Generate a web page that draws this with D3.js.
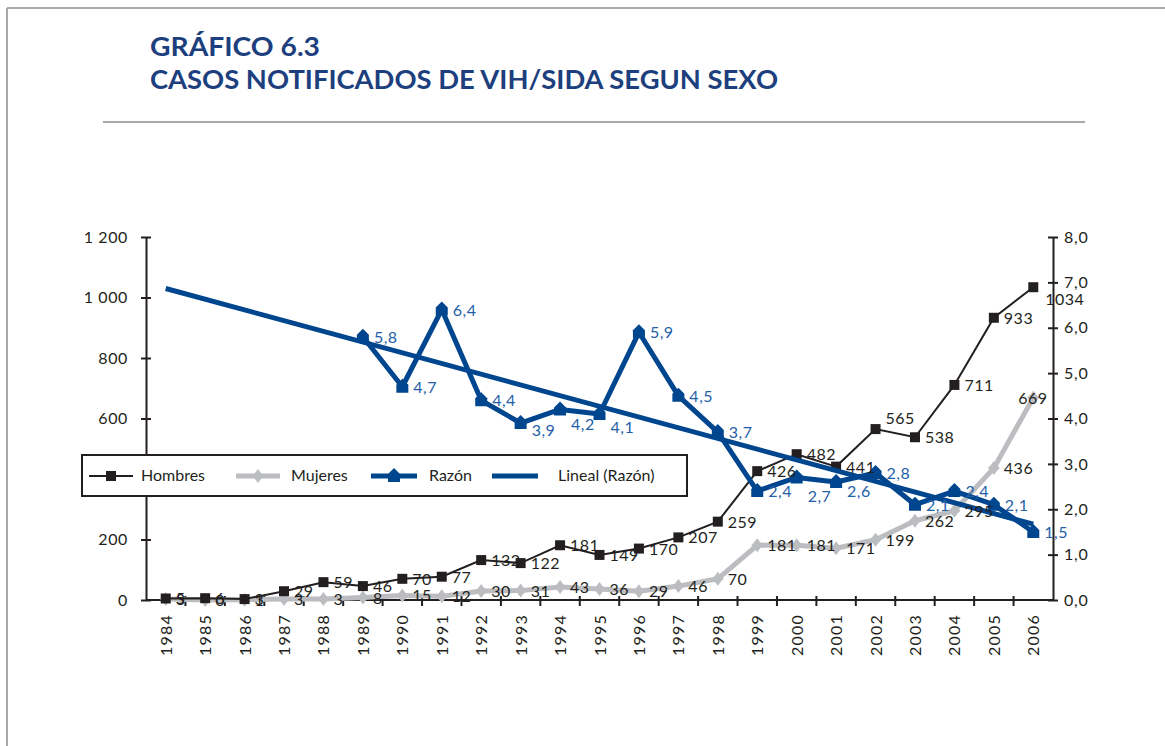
<!DOCTYPE html>
<html>
<head>
<meta charset="utf-8">
<script src="https://cdn.jsdelivr.net/npm/d3@7"></script>
<style>
  body { margin: 0; background: #fff; }
  svg { display: block; font-family: Lato, "Open Sans", sans-serif; }
</style>
</head>
<body>
<svg id="chart" width="1165" height="746"></svg>
<script>
// ---- data -------------------------------------------------------------
const years = ["1984","1985","1986","1987","1988","1989","1990","1991","1992","1993","1994","1995",
               "1996","1997","1998","1999","2000","2001","2002","2003","2004","2005","2006"];
const hombres = [5, 6, 3, 29, 59, 46, 70, 77, 132, 122, 181, 149, 170, 207, 259, 426, 482, 441, 565, 538, 711, 933, 1034];
const mujeres = [3, 0, 1, 3, 3, 8, 15, 12, 30, 31, 43, 36, 29, 46, 70, 181, 181, 171, 199, 262, 295, 436, 669];
const razon   = [null, null, null, null, null, 5.8, 4.7, 6.4, 4.4, 3.9, 4.2, 4.1, 5.9, 4.5, 3.7, 2.4, 2.7, 2.6, 2.8, 2.1, 2.4, 2.1, 1.5];
const leftTicks  = [0, 200, 400, 600, 800, 1000, 1200];
const rightTicks = [0, 1, 2, 3, 4, 5, 6, 7, 8];
const seriesNames = ["Hombres", "Mujeres", "Razón", "Lineal (Razón)"];
const titleLines = ["GRÁFICO 6.3", "CASOS NOTIFICADOS DE VIH/SIDA SEGUN SEXO"];

// ---- styling ------------------------------------------------------------
const C = {
  title: "#1d3f7e",
  frame: "#a9a9a9",
  ink: "#231f20",
  gray: "#bcbdc0",
  blue: "#00468f",
  blueText: "#2460a8"
};

const svg = d3.select("#chart");
const locale = d3.formatLocale({ decimal: ",", thousands: " ", grouping: [3], currency: ["", ""] });
const fmtLeft = locale.format(",");
const fmtRight = locale.format(".1f");
const fmtRatio = locale.format(".1f");

// page frame and heading
svg.append("line").attr("x1", 7).attr("x2", 1165).attr("y1", 8).attr("y2", 8)
  .attr("stroke", C.frame).attr("stroke-width", 2);
svg.append("line").attr("x1", 7).attr("x2", 7).attr("y1", 8).attr("y2", 746)
  .attr("stroke", C.frame).attr("stroke-width", 2);
svg.append("line").attr("x1", 103).attr("x2", 1085).attr("y1", 122).attr("y2", 122)
  .attr("stroke", C.frame).attr("stroke-width", 2);

const titleW = [170, 628];
titleLines.forEach((t, i) => {
  svg.append("text")
    .attr("x", 150).attr("y", 56 + i * 33)
    .attr("fill", C.title).attr("font-weight", 700).attr("font-size", 27)
    .attr("textLength", titleW[i]).attr("lengthAdjust", "spacingAndGlyphs")
    .text(t);
});

// ---- scales -------------------------------------------------------------
const x = d3.scaleBand().domain(years).range([146, 1053]);
const cx = d => x(d) + x.bandwidth() / 2;
const yL = d3.scaleLinear().domain([0, 1200]).range([600, 237]);
const yR = d3.scaleLinear().domain([0, 8]).range([600, 237]);

// ---- axes ---------------------------------------------------------------
function crossTicks(g) {
  g.attr("font-family", null);
  g.select(".domain").attr("stroke", C.ink).attr("stroke-width", 2);
  g.selectAll(".tick line").attr("stroke", C.ink).attr("stroke-width", 2)
    .attr("x1", -5).attr("x2", 5);
  g.selectAll(".tick text").attr("fill", C.ink).attr("font-size", 16);
}

svg.append("g").attr("transform", "translate(146,0)")
  .call(d3.axisLeft(yL).tickValues(leftTicks).tickFormat(fmtLeft).tickSizeOuter(0).tickSizeInner(5).tickPadding(13))
  .call(crossTicks)
  .call(g => g.selectAll(".tick text").attr("letter-spacing", 0.6));

svg.append("g").attr("transform", "translate(1053,0)")
  .call(d3.axisRight(yR).tickValues(rightTicks).tickFormat(fmtRight).tickSizeOuter(0).tickSizeInner(5).tickPadding(6))
  .call(crossTicks)
  .call(g => g.selectAll(".tick text").attr("letter-spacing", 0.8));

// x axis: ticks on category boundaries, labels rotated at category centres
const xAxis = svg.append("g");
xAxis.append("line").attr("x1", 146).attr("x2", 1053).attr("y1", 600).attr("y2", 600)
  .attr("stroke", C.ink).attr("stroke-width", 2);
xAxis.selectAll("line.tick").data(years.slice(1)).join("line")
  .attr("class", "tick")
  .attr("x1", d => x(d)).attr("x2", d => x(d))
  .attr("y1", 596).attr("y2", 606)
  .attr("stroke", C.ink).attr("stroke-width", 2);
xAxis.selectAll("text").data(years).join("text")
  .attr("transform", d => `translate(${cx(d) + 6},614) rotate(-90)`)
  .attr("text-anchor", "end")
  .attr("font-size", 16).attr("letter-spacing", 1.2).attr("fill", C.ink)
  .text(d => d);

// ---- marker shapes --------------------------------------------------------
const squarePath = "M-5,-5H5V5H-5Z";
const diamondPath = "M0,-7L3,-3L6,0L3,3L0,7L-3,3L-6,0L-3,-3Z";
const housePath = "M0,-8L6,-2V6H-6V-2Z";

// ---- series -------------------------------------------------------------
const idx = years.map((d, i) => i);

// Mujeres
svg.append("path")
  .attr("d", d3.line().x(i => cx(years[i])).y(i => yL(mujeres[i]))(idx))
  .attr("fill", "none").attr("stroke", C.gray).attr("stroke-width", 5).attr("stroke-linejoin", "round");
svg.append("g").selectAll("path").data(idx).join("path")
  .attr("transform", i => `translate(${cx(years[i])},${yL(mujeres[i])})`)
  .attr("d", diamondPath).attr("fill", C.gray);

// Hombres
svg.append("path")
  .attr("d", d3.line().x(i => cx(years[i])).y(i => yL(hombres[i]))(idx))
  .attr("fill", "none").attr("stroke", C.ink).attr("stroke-width", 2);
svg.append("g").selectAll("path").data(idx).join("path")
  .attr("transform", i => `translate(${cx(years[i])},${yL(hombres[i])})`)
  .attr("d", squarePath).attr("fill", C.ink);

// Razón (secondary axis)
const rIdx = idx.filter(i => razon[i] != null);
svg.append("path")
  .attr("d", d3.line().x(i => cx(years[i])).y(i => yR(razon[i]))(rIdx))
  .attr("fill", "none").attr("stroke", C.blue).attr("stroke-width", 5).attr("stroke-linejoin", "round");
svg.append("g").selectAll("path").data(rIdx).join("path")
  .attr("transform", i => `translate(${cx(years[i])},${yR(razon[i])})`)
  .attr("d", housePath).attr("fill", C.blue);

// Lineal (Razón): least-squares trend over the ratio, drawn across all years
const mx = d3.mean(rIdx), my = d3.mean(rIdx, i => razon[i]);
const slope = d3.sum(rIdx, i => (i - mx) * (razon[i] - my)) / d3.sum(rIdx, i => (i - mx) ** 2);
const trendAt = i => my + slope * (i - mx);
const i0 = 0, i1 = years.length - 1;
svg.append("line")
  .attr("x1", cx(years[i0])).attr("y1", yR(trendAt(i0)))
  .attr("x2", cx(years[i1])).attr("y2", yR(trendAt(i1)))
  .attr("stroke", C.blue).attr("stroke-width", 5);

// ---- data labels ----------------------------------------------------------
// labels sit to the right of each point; a few are nudged clear of the lines
const nudge = {
  h: { "2002": [0, -11], "2006": [2, 12] },
  m: { "2006": [-25, 0] },
  r: { "1993": [0, 7], "1994": [0, 15], "1995": [0, 13], "2000": [0, 19], "2001": [0, 9] }
};
const nd = (key, i, k) => (nudge[key][years[i]] || [0, 0])[k];

const labels = svg.append("g").attr("font-size", 16).attr("letter-spacing", 0.5);
labels.selectAll("text.h").data(idx).join("text").attr("class", "h")
  .attr("x", i => cx(years[i]) + 10 + nd("h", i, 0)).attr("y", i => yL(hombres[i]) + 6 + nd("h", i, 1))
  .attr("fill", C.ink).text(i => hombres[i]);
labels.selectAll("text.m").data(idx).join("text").attr("class", "m")
  .attr("x", i => cx(years[i]) + 10 + nd("m", i, 0)).attr("y", i => yL(mujeres[i]) + 6 + nd("m", i, 1))
  .attr("fill", C.ink).text(i => mujeres[i]);
labels.selectAll("text.r").data(rIdx).join("text").attr("class", "r")
  .attr("x", i => cx(years[i]) + 11 + nd("r", i, 0)).attr("y", i => yR(razon[i]) + 6 + nd("r", i, 1))
  .attr("fill", C.blueText).text(i => fmtRatio(razon[i]));

// ---- legend -------------------------------------------------------------
const lg = svg.append("g");
lg.append("rect").attr("x", 82).attr("y", 455).attr("width", 605).attr("height", 41)
  .attr("fill", "#fff").attr("stroke", C.ink).attr("stroke-width", 2);
const ly = 476;
const legendItems = [
  { x0: 89, x1: 133, color: C.ink, w: 2, marker: squarePath, tx: 141 },
  { x0: 236, x1: 280, color: C.gray, w: 5, marker: diamondPath, tx: 291 },
  { x0: 371, x1: 417, color: C.blue, w: 5, marker: housePath, tx: 429 },
  { x0: 492, x1: 538, color: C.blue, w: 5, marker: null, tx: 558 }
];
legendItems.forEach((it, k) => {
  lg.append("line").attr("x1", it.x0).attr("x2", it.x1).attr("y1", ly).attr("y2", ly)
    .attr("stroke", it.color).attr("stroke-width", it.w);
  if (it.marker) {
    lg.append("path").attr("d", it.marker)
      .attr("transform", `translate(${(it.x0 + it.x1) / 2},${ly})`).attr("fill", it.color);
  }
  lg.append("text").attr("x", it.tx).attr("y", ly + 5)
    .attr("font-size", 16).attr("fill", C.ink).text(seriesNames[k]);
});
</script>
</body>
</html>
